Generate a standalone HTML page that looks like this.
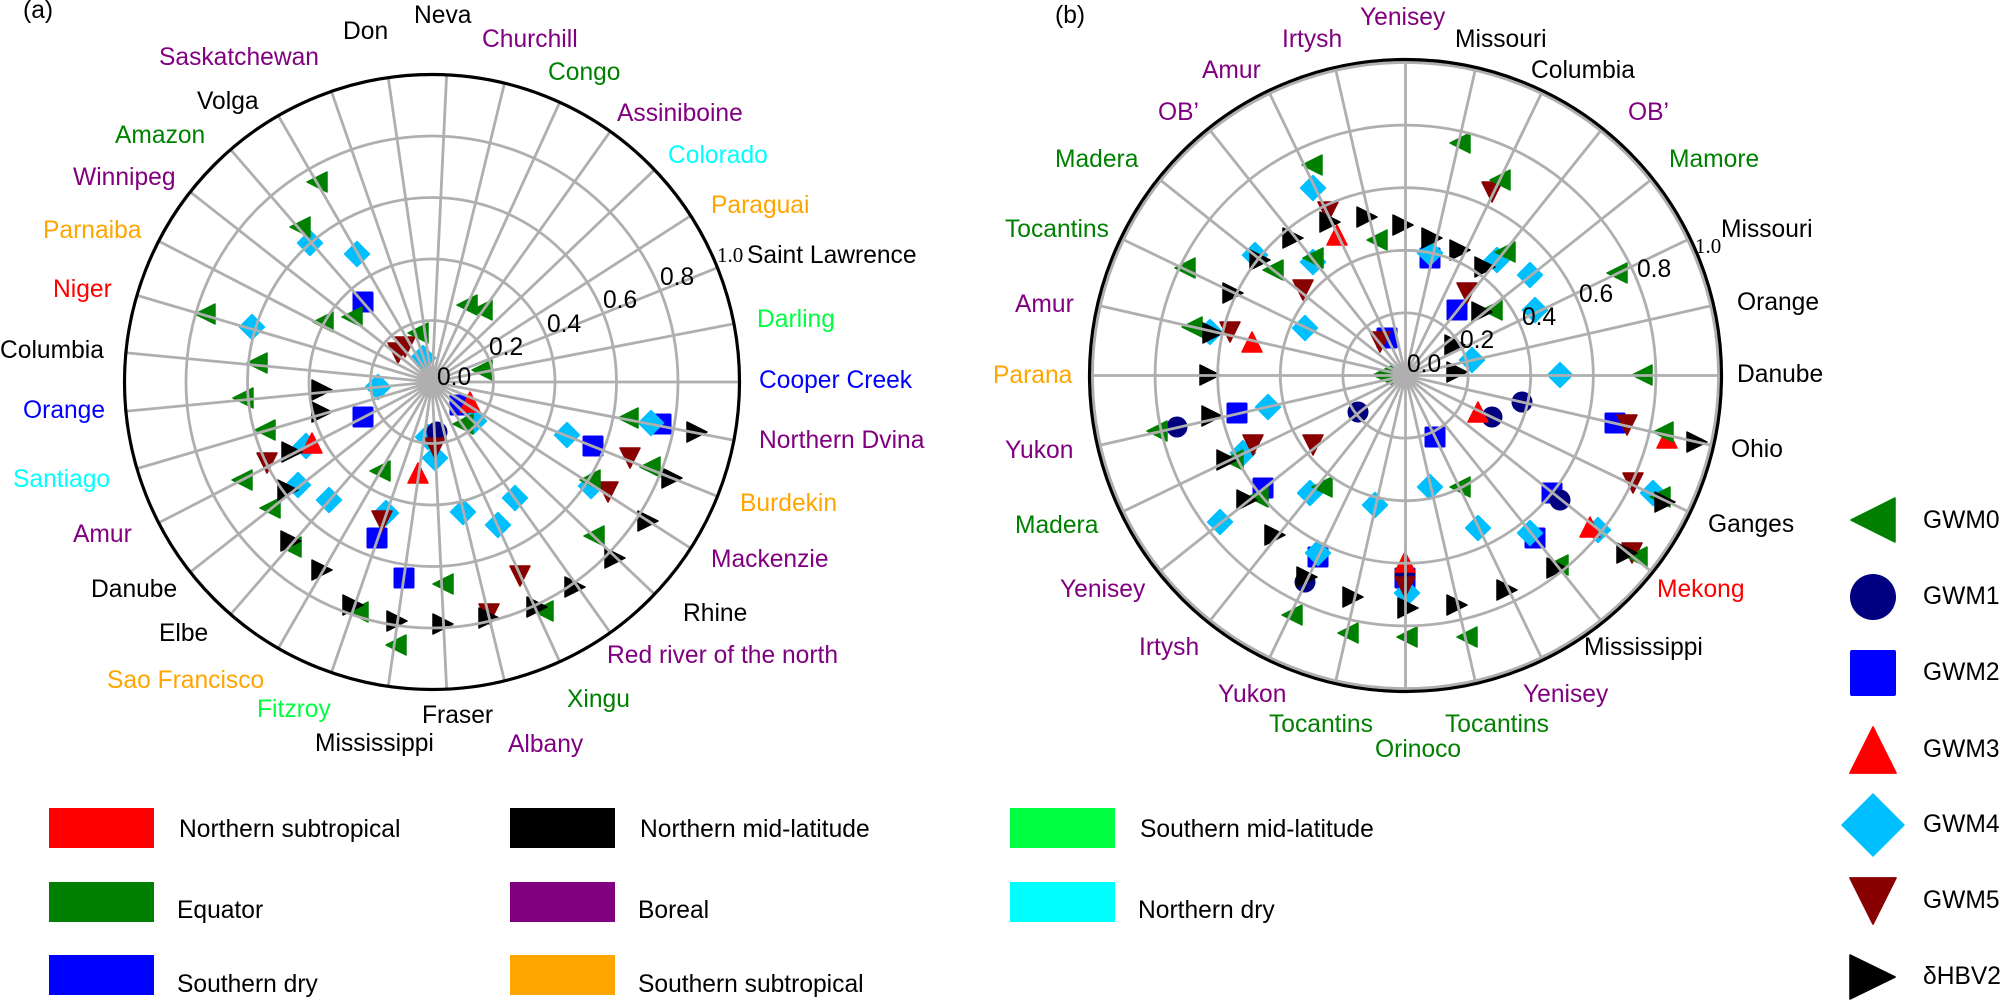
<!DOCTYPE html>
<html><head><meta charset="utf-8"><style>
html,body{margin:0;padding:0;background:#fff;}
svg{display:block;}
text{font-family:"Liberation Sans",Arial,sans-serif;font-size:24.6px;}
.sf{font-family:"Liberation Serif","Times New Roman",serif;font-size:21px;}
.k{fill:#000}.p{fill:#800080}.g{fill:#008000}.o{fill:#FFA500}.c{fill:#00FFFF}.sg{fill:#00FF40}.b{fill:#0000FF}.r{fill:#FF0000}
</style></head><body>
<svg width="2000" height="1001" viewBox="0 0 2000 1001" xmlns="http://www.w3.org/2000/svg">
<rect width="2000" height="1001" fill="#fff"/>
<defs>
<path id="t0" d="M-10,0 L10,-10 L10,10 Z" fill="#008000" stroke="#008000" stroke-width="1.5" stroke-linejoin="round"/>
<circle id="c1" r="10.5" fill="#000080"/>
<rect id="s2" x="-10.5" y="-10.5" width="21" height="21" rx="1.5" fill="#0000FF"/>
<path id="u3" d="M0,-10 L10,10 L-10,10 Z" fill="#FF0000" stroke="#FF0000" stroke-width="1.5" stroke-linejoin="round"/>
<path id="d4" d="M0,-12.5 L12.5,0 L0,12.5 L-12.5,0 Z" fill="#00BFFF" stroke="#00BFFF" stroke-width="1.5" stroke-linejoin="round"/>
<path id="v5" d="M-10,-10 L10,-10 L0,10 Z" fill="#880000" stroke="#880000" stroke-width="1.5" stroke-linejoin="round"/>
<path id="r6" d="M-10,-10 L10,0 L-10,10 Z" fill="#000" stroke="#000" stroke-width="1.5" stroke-linejoin="round"/>
</defs>

<!-- LEFT CHART MARKERS -->
<g>
<use href="#s2" x="363" y="302"/><use href="#s2" x="363" y="417"/><use href="#s2" x="460" y="405"/><use href="#s2" x="377" y="538"/><use href="#s2" x="593" y="446"/><use href="#s2" x="661" y="424"/><use href="#s2" x="404" y="578"/>
<use href="#d4" x="310" y="243"/><use href="#d4" x="357" y="254"/><use href="#d4" x="252" y="327"/><use href="#d4" x="423" y="358"/><use href="#d4" x="378" y="387"/><use href="#d4" x="474" y="421"/><use href="#d4" x="428" y="437"/><use href="#d4" x="435" y="458"/><use href="#d4" x="306" y="446"/><use href="#d4" x="298" y="485"/><use href="#d4" x="329" y="500"/><use href="#d4" x="386" y="513"/><use href="#d4" x="463" y="512"/><use href="#d4" x="515" y="498"/><use href="#d4" x="498" y="525"/><use href="#d4" x="567" y="435"/><use href="#d4" x="651" y="423"/><use href="#d4" x="591" y="486"/>
<use href="#c1" x="437" y="432"/>
<use href="#u3" x="470" y="402"/><use href="#u3" x="418" y="473"/><use href="#u3" x="312" y="443"/>
<use href="#v5" x="405" y="347"/><use href="#v5" x="398" y="353"/><use href="#v5" x="435" y="448"/><use href="#v5" x="267" y="463"/><use href="#v5" x="382" y="521"/><use href="#v5" x="630" y="458"/><use href="#v5" x="608" y="492"/><use href="#v5" x="520" y="576"/><use href="#v5" x="489" y="614"/>
<use href="#t0" x="317" y="182"/><use href="#t0" x="300" y="227"/><use href="#t0" x="352" y="317"/><use href="#t0" x="323" y="322"/><use href="#t0" x="205" y="314"/><use href="#t0" x="467" y="305"/><use href="#t0" x="482" y="310"/><use href="#t0" x="418" y="333"/><use href="#t0" x="482" y="370"/><use href="#t0" x="265" y="430"/><use href="#t0" x="463" y="424"/><use href="#t0" x="380" y="471"/><use href="#t0" x="270" y="508"/><use href="#t0" x="650" y="467"/><use href="#t0" x="628" y="418"/><use href="#t0" x="590" y="480"/><use href="#t0" x="594" y="536"/><use href="#t0" x="443" y="584"/><use href="#t0" x="543" y="611"/><use href="#t0" x="358" y="612"/><use href="#t0" x="291" y="547"/><use href="#t0" x="396" y="645"/><use href="#t0" x="257" y="363"/><use href="#t0" x="243" y="398"/><use href="#t0" x="242" y="480"/>
<use href="#r6" x="322" y="390"/><use href="#r6" x="322" y="412"/><use href="#r6" x="292" y="452"/><use href="#r6" x="288" y="490"/><use href="#r6" x="697" y="432"/><use href="#r6" x="672" y="478"/><use href="#r6" x="648" y="521"/><use href="#r6" x="615" y="558"/><use href="#r6" x="575" y="587"/><use href="#r6" x="537" y="607"/><use href="#r6" x="489" y="618"/><use href="#r6" x="443" y="624"/><use href="#r6" x="397" y="621"/><use href="#r6" x="353" y="605"/><use href="#r6" x="322" y="570"/><use href="#r6" x="291" y="541"/>
</g>

<!-- RIGHT CHART MARKERS -->
<g>
<use href="#s2" x="1387" y="338"/><use href="#s2" x="1430" y="258"/><use href="#s2" x="1237" y="413"/><use href="#s2" x="1457" y="310"/><use href="#s2" x="1435" y="437"/><use href="#s2" x="1615" y="423"/><use href="#s2" x="1552" y="493"/><use href="#s2" x="1535" y="538"/><use href="#s2" x="1405" y="578"/><use href="#s2" x="1263" y="488"/><use href="#s2" x="1318" y="557"/>
<use href="#d4" x="1313" y="188"/><use href="#d4" x="1255" y="255"/><use href="#d4" x="1313" y="262"/><use href="#d4" x="1305" y="328"/><use href="#d4" x="1210" y="332"/><use href="#d4" x="1430" y="253"/><use href="#d4" x="1268" y="407"/><use href="#d4" x="1497" y="260"/><use href="#d4" x="1530" y="275"/><use href="#d4" x="1535" y="310"/><use href="#d4" x="1472" y="360"/><use href="#d4" x="1560" y="375"/><use href="#d4" x="1653" y="493"/><use href="#d4" x="1430" y="487"/><use href="#d4" x="1478" y="528"/><use href="#d4" x="1530" y="533"/><use href="#d4" x="1598" y="530"/><use href="#d4" x="1407" y="593"/><use href="#d4" x="1243" y="453"/><use href="#d4" x="1310" y="493"/><use href="#d4" x="1375" y="505"/><use href="#d4" x="1220" y="522"/><use href="#d4" x="1318" y="553"/>
<use href="#c1" x="1177" y="427"/><use href="#c1" x="1358" y="412"/><use href="#c1" x="1522" y="402"/><use href="#c1" x="1492" y="417"/><use href="#c1" x="1560" y="500"/><use href="#c1" x="1405" y="575"/><use href="#c1" x="1305" y="582"/>
<use href="#u3" x="1337" y="235"/><use href="#u3" x="1252" y="342"/><use href="#u3" x="1478" y="412"/><use href="#u3" x="1667" y="438"/><use href="#u3" x="1590" y="527"/>
<use href="#v5" x="1328" y="212"/><use href="#v5" x="1303" y="290"/><use href="#v5" x="1230" y="332"/><use href="#v5" x="1380" y="342"/><use href="#v5" x="1492" y="192"/><use href="#v5" x="1467" y="293"/><use href="#v5" x="1627" y="425"/><use href="#v5" x="1633" y="483"/><use href="#v5" x="1632" y="553"/><use href="#v5" x="1405" y="587"/><use href="#v5" x="1253" y="445"/><use href="#v5" x="1313" y="445"/>
<use href="#u3" x="1405" y="562"/>
<use href="#t0" x="1312" y="165"/><use href="#t0" x="1377" y="240"/><use href="#t0" x="1273" y="270"/><use href="#t0" x="1313" y="258"/><use href="#t0" x="1185" y="268"/><use href="#t0" x="1192" y="327"/><use href="#t0" x="1383" y="375"/><use href="#t0" x="1157" y="431"/><use href="#t0" x="1460" y="143"/><use href="#t0" x="1500" y="180"/><use href="#t0" x="1505" y="252"/><use href="#t0" x="1492" y="310"/><use href="#t0" x="1617" y="273"/><use href="#t0" x="1642" y="375"/><use href="#t0" x="1663" y="432"/><use href="#t0" x="1660" y="497"/><use href="#t0" x="1460" y="487"/><use href="#t0" x="1637" y="557"/><use href="#t0" x="1558" y="565"/><use href="#t0" x="1467" y="637"/><use href="#t0" x="1407" y="637"/><use href="#t0" x="1233" y="460"/><use href="#t0" x="1322" y="487"/><use href="#t0" x="1258" y="497"/><use href="#t0" x="1292" y="615"/><use href="#t0" x="1348" y="633"/>
<use href="#r6" x="1330" y="222"/><use href="#r6" x="1367" y="217"/><use href="#r6" x="1403" y="225"/><use href="#r6" x="1432" y="238"/><use href="#r6" x="1293" y="238"/><use href="#r6" x="1260" y="260"/><use href="#r6" x="1233" y="293"/><use href="#r6" x="1213" y="333"/><use href="#r6" x="1210" y="375"/><use href="#r6" x="1212" y="416"/><use href="#r6" x="1460" y="250"/><use href="#r6" x="1485" y="267"/><use href="#r6" x="1482" y="312"/><use href="#r6" x="1455" y="345"/><use href="#r6" x="1457" y="372"/><use href="#r6" x="1697" y="442"/><use href="#r6" x="1665" y="502"/><use href="#r6" x="1627" y="553"/><use href="#r6" x="1557" y="568"/><use href="#r6" x="1507" y="590"/><use href="#r6" x="1457" y="605"/><use href="#r6" x="1408" y="608"/><use href="#r6" x="1227" y="460"/><use href="#r6" x="1247" y="500"/><use href="#r6" x="1275" y="535"/><use href="#r6" x="1307" y="577"/><use href="#r6" x="1353" y="597"/>
</g>

<!-- LEFT GRID -->
<g fill="none" stroke="#AFAFAF" stroke-width="2.8">
<circle cx="432" cy="382" r="61.5"/><circle cx="432" cy="382" r="123"/><circle cx="432" cy="382" r="184.5"/><circle cx="432" cy="382" r="246"/>
<path d="M432 382L739.5 382M432 382L733.94 323.81M432 382L717.47 267.71M432 382L690.68 215.75M432 382L654.55 169.8M432 382L610.3 131.47M432 382L559.74 102.29M432 382L504.49 83.17M432 382L446.63 74.85M432 382L388.24 77.63M432 382L331.43 91.41M432 382L278.25 115.7M432 382L230.63 149.61M432 382L190.29 191.92M432 382L158.68 241.1M432 382L136.96 295.37M432 382L125.89 352.77M432 382L125.89 411.23M432 382L136.96 468.63M432 382L158.68 522.9M432 382L190.29 572.08M432 382L230.63 614.39M432 382L278.25 648.3M432 382L331.43 672.59M432 382L388.24 686.37M432 382L446.63 689.15M432 382L504.49 680.83M432 382L559.74 661.71M432 382L610.3 632.53M432 382L654.55 594.2M432 382L690.68 548.25M432 382L717.47 496.29M432 382L733.94 440.19"/>
</g>
<circle cx="432" cy="382" r="307.5" fill="none" stroke="#000" stroke-width="3.2"/>

<!-- RIGHT GRID -->
<g fill="none" stroke="#AFAFAF" stroke-width="2.8">
<circle cx="1405.5" cy="375.5" r="62.6"/><circle cx="1405.5" cy="375.5" r="125.2"/><circle cx="1405.5" cy="375.5" r="187.8"/><circle cx="1405.5" cy="375.5" r="250.4"/><circle cx="1405.5" cy="375.5" r="313"/>
<path d="M1405.5 375.5L1718.5 375.5M1405.5 375.5L1710.65 305.85M1405.5 375.5L1687.5 239.7M1405.5 375.5L1650.21 180.35M1405.5 375.5L1600.65 130.79M1405.5 375.5L1541.3 93.5M1405.5 375.5L1475.15 70.35M1405.5 375.5L1405.5 62.5M1405.5 375.5L1335.85 70.35M1405.5 375.5L1269.7 93.5M1405.5 375.5L1210.35 130.79M1405.5 375.5L1160.79 180.35M1405.5 375.5L1123.5 239.7M1405.5 375.5L1100.35 305.85M1405.5 375.5L1092.5 375.5M1405.5 375.5L1100.35 445.15M1405.5 375.5L1123.5 511.3M1405.5 375.5L1160.79 570.65M1405.5 375.5L1210.35 620.21M1405.5 375.5L1269.7 657.5M1405.5 375.5L1335.85 680.65M1405.5 375.5L1405.5 688.5M1405.5 375.5L1475.15 680.65M1405.5 375.5L1541.3 657.5M1405.5 375.5L1600.65 620.21M1405.5 375.5L1650.21 570.65M1405.5 375.5L1687.5 511.3M1405.5 375.5L1710.65 445.15"/>
</g>
<circle cx="1405.5" cy="375.5" r="316" fill="none" stroke="#000" stroke-width="3.2"/>

<!-- PANEL LABELS -->
<text x="23" y="18" class="k">(a)</text>
<text x="1055" y="23" class="k">(b)</text>

<!-- LEFT RADIAL TICKS -->
<text x="437" y="385" font-size="24">0.0</text>
<text x="489" y="355" font-size="24">0.2</text>
<text x="547" y="332" font-size="24">0.4</text>
<text x="603" y="308" font-size="24">0.6</text>
<text x="660" y="285" font-size="24">0.8</text>
<text x="717" y="262" class="sf">1.0</text>

<!-- RIGHT RADIAL TICKS -->
<text x="1407" y="372" font-size="24">0.0</text>
<text x="1460" y="348" font-size="24">0.2</text>
<text x="1522" y="325" font-size="24">0.4</text>
<text x="1579" y="302" font-size="24">0.6</text>
<text x="1637" y="277" font-size="24">0.8</text>
<text x="1695" y="253" class="sf">1.0</text>

<!-- LEFT LABELS -->
<text x="343" y="39" class="k">Don</text>
<text x="414" y="23" class="k">Neva</text>
<text x="482" y="47" class="p">Churchill</text>
<text x="548" y="80" class="g">Congo</text>
<text x="617" y="121" class="p">Assiniboine</text>
<text x="668" y="163" class="c">Colorado</text>
<text x="711" y="213" class="o">Paraguai</text>
<text x="747" y="263" class="k">Saint Lawrence</text>
<text x="757" y="327" class="sg">Darling</text>
<text x="759" y="388" class="b">Cooper Creek</text>
<text x="759" y="448" class="p">Northern Dvina</text>
<text x="740" y="511" class="o">Burdekin</text>
<text x="711" y="567" class="p">Mackenzie</text>
<text x="683" y="621" class="k">Rhine</text>
<text x="607" y="663" class="p">Red river of the north</text>
<text x="567" y="707" class="g">Xingu</text>
<text x="508" y="752" class="p">Albany</text>
<text x="422" y="723" class="k">Fraser</text>
<text x="315" y="751" class="k">Mississippi</text>
<text x="257" y="717" class="sg">Fitzroy</text>
<text x="107" y="688" class="o">Sao Francisco</text>
<text x="159" y="641" class="k">Elbe</text>
<text x="91" y="597" class="k">Danube</text>
<text x="73" y="542" class="p">Amur</text>
<text x="13" y="487" class="c">Santiago</text>
<text x="23" y="418" class="b">Orange</text>
<text x="0" y="358" class="k">Columbia</text>
<text x="53" y="297" class="r">Niger</text>
<text x="43" y="238" class="o">Parnaiba</text>
<text x="73" y="185" class="p">Winnipeg</text>
<text x="115" y="143" class="g">Amazon</text>
<text x="197" y="109" class="k">Volga</text>
<text x="159" y="65" class="p">Saskatchewan</text>

<!-- RIGHT LABELS -->
<text x="1360" y="25" class="p">Yenisey</text>
<text x="1282" y="47" class="p">Irtysh</text>
<text x="1202" y="78" class="p">Amur</text>
<text x="1158" y="120" class="p">OB’</text>
<text x="1055" y="167" class="g">Madera</text>
<text x="1005" y="237" class="g">Tocantins</text>
<text x="1015" y="312" class="p">Amur</text>
<text x="993" y="383" class="o">Parana</text>
<text x="1005" y="458" class="p">Yukon</text>
<text x="1015" y="533" class="g">Madera</text>
<text x="1060" y="597" class="p">Yenisey</text>
<text x="1139" y="655" class="p">Irtysh</text>
<text x="1218" y="702" class="p">Yukon</text>
<text x="1269" y="732" class="g">Tocantins</text>
<text x="1375" y="757" class="g">Orinoco</text>
<text x="1445" y="732" class="g">Tocantins</text>
<text x="1523" y="702" class="p">Yenisey</text>
<text x="1584" y="655" class="k">Mississippi</text>
<text x="1657" y="597" class="r">Mekong</text>
<text x="1708" y="532" class="k">Ganges</text>
<text x="1731" y="457" class="k">Ohio</text>
<text x="1737" y="382" class="k">Danube</text>
<text x="1737" y="310" class="k">Orange</text>
<text x="1721" y="237" class="k">Missouri</text>
<text x="1669" y="167" class="g">Mamore</text>
<text x="1628" y="120" class="p">OB’</text>
<text x="1531" y="78" class="k">Columbia</text>
<text x="1455" y="47" class="k">Missouri</text>

<!-- BOTTOM LEGEND -->
<rect x="49" y="808" width="105" height="40" fill="#FF0000"/>
<rect x="49" y="882" width="105" height="40" fill="#008000"/>
<rect x="49" y="955" width="105" height="40" fill="#0000FF"/>
<text x="179" y="837" class="k">Northern subtropical</text>
<text x="177" y="918" class="k">Equator</text>
<text x="177" y="992" class="k">Southern dry</text>

<rect x="510" y="808" width="105" height="40" fill="#000"/>
<rect x="510" y="882" width="105" height="40" fill="#800080"/>
<rect x="510" y="955" width="105" height="40" fill="#FFA500"/>
<text x="640" y="837" class="k">Northern mid-latitude</text>
<text x="638" y="918" class="k">Boreal</text>
<text x="638" y="992" class="k">Southern subtropical</text>

<rect x="1010" y="808" width="105" height="40" fill="#00FF40"/>
<rect x="1010" y="882" width="105" height="40" fill="#00FFFF"/>
<text x="1140" y="837" class="k">Southern mid-latitude</text>
<text x="1138" y="918" class="k">Northern dry</text>

<!-- RIGHT LEGEND -->
<g transform="translate(1873,520) scale(2.2)"><path d="M-10,0 L10,-10 L10,10 Z" fill="#008000" stroke="#008000" stroke-width="0.7" stroke-linejoin="round"/></g>
<circle cx="1873" cy="597" r="23" fill="#000080"/>
<rect x="1850" y="650" width="46" height="46" rx="2" fill="#0000FF"/>
<g transform="translate(1873,750) scale(2.2)"><path d="M0,-10.5 L10.5,10.5 L-10.5,10.5 Z" fill="#FF0000" stroke="#FF0000" stroke-width="0.7" stroke-linejoin="round"/></g>
<g transform="translate(1873,825)"><path d="M0,-31 L31,0 L0,31 L-31,0 Z" fill="#00BFFF" stroke="#00BFFF" stroke-width="1.5" stroke-linejoin="round"/></g>
<g transform="translate(1873,901) scale(2.2)"><path d="M-10.5,-10.5 L10.5,-10.5 L0,10.5 Z" fill="#880000" stroke="#880000" stroke-width="0.7" stroke-linejoin="round"/></g>
<g transform="translate(1872,977) scale(2.2)"><path d="M-10,-10 L10.5,0 L-10,10 Z" fill="#000" stroke="#000" stroke-width="0.7" stroke-linejoin="round"/></g>
<text x="1923" y="528" class="k" font-size="24">GWM0</text>
<text x="1923" y="604" class="k" font-size="24">GWM1</text>
<text x="1923" y="680" class="k" font-size="24">GWM2</text>
<text x="1923" y="757" class="k" font-size="24">GWM3</text>
<text x="1923" y="832" class="k" font-size="24">GWM4</text>
<text x="1923" y="908" class="k" font-size="24">GWM5</text>
<text x="1923" y="984" class="k" font-size="24">δHBV2</text>
</svg>
</body></html>
